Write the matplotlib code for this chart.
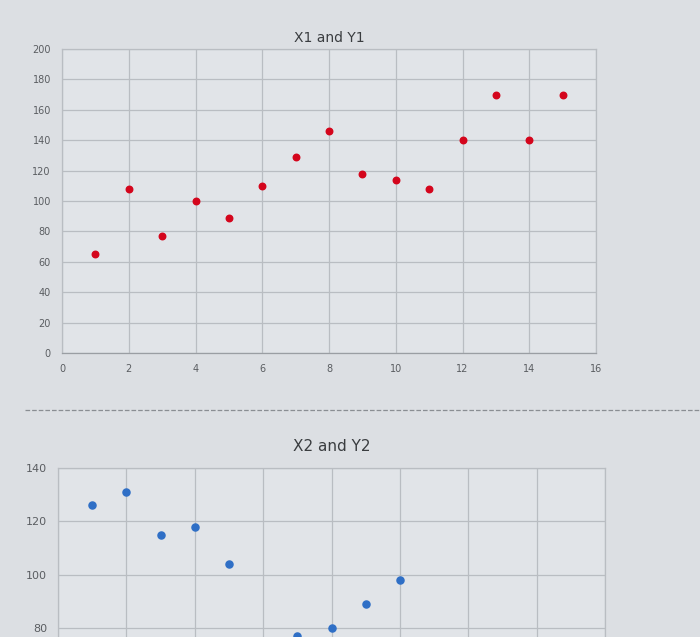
import matplotlib
matplotlib.use("Agg")
import matplotlib.pyplot as plt
from matplotlib.lines import Line2D

# data
x1 = [1, 2, 3, 4, 5, 6, 7, 8, 9, 10, 11, 12, 13, 14, 15]
y1 = [65, 108, 77, 100, 89, 110, 129, 146, 118, 114, 108, 140, 170, 140, 170]

# only the visible part of the second chart (rest is cut off by the photo)
x2 = [1, 2, 3, 4, 5, 7, 8, 9, 10]
y2 = [126, 131, 115, 118, 104, 77, 80, 89, 98]

x_ticks = list(range(0, 17, 2))
y1_ticks = list(range(0, 201, 20))
y2_ticks = [80, 100, 120, 140]  # ticks visible in the photo

bg = '#dcdfe3'
grid_col = '#b9bdc2'
txt_col = '#5a5d61'

fig = plt.figure(figsize=(7, 6.37), dpi=100)
fig.patch.set_facecolor(bg)

W, H = 700, 637


def box(left, top, right, bottom):
    return [left / W, 1 - bottom / H, (right - left) / W, (bottom - top) / H]


def style(ax, yt, ylim):
    ax.set_facecolor('#e1e4e8')
    ax.set_xlim(0, 16)
    ax.set_xticks(x_ticks)
    ax.set_yticks(yt)
    ax.set_ylim(*ylim)
    ax.grid(True, color=grid_col, linewidth=0.9)
    ax.set_axisbelow(True)
    for s in ax.spines.values():
        s.set_color(grid_col)
        s.set_linewidth(0.9)
    ax.tick_params(length=0, labelsize=7, colors=txt_col, pad=8)


# top chart
ax1 = fig.add_axes(box(62, 49, 596, 353))
style(ax1, y1_ticks, (0, 200))
ax1.spines['bottom'].set_color('#9a9ea3')
ax1.scatter(x1, y1, s=22, color='#d4051c', zorder=3)
ax1.set_title('X1 and Y1', fontsize=10, color='#3a3d40', pad=5)

# dashed separator
fig.add_artist(Line2D([25 / W, 1], [1 - 410 / H, 1 - 410 / H],
                      color='#8a8e93', linewidth=0.9, linestyle='--'))

# bottom chart, runs off the bottom of the photo
ax2 = fig.add_axes(box(58, 468, 605, 842))
style(ax2, y2_ticks, (0, 140))
ax2.scatter(x2, y2, s=26, color='#2f6fc6', zorder=3)
ax2.set_title('X2 and Y2', fontsize=11, color='#3a3d40', pad=12)
ax2.tick_params(labelsize=8, labelbottom=False)

fig.savefig('out.png', dpi=100, facecolor=bg)
